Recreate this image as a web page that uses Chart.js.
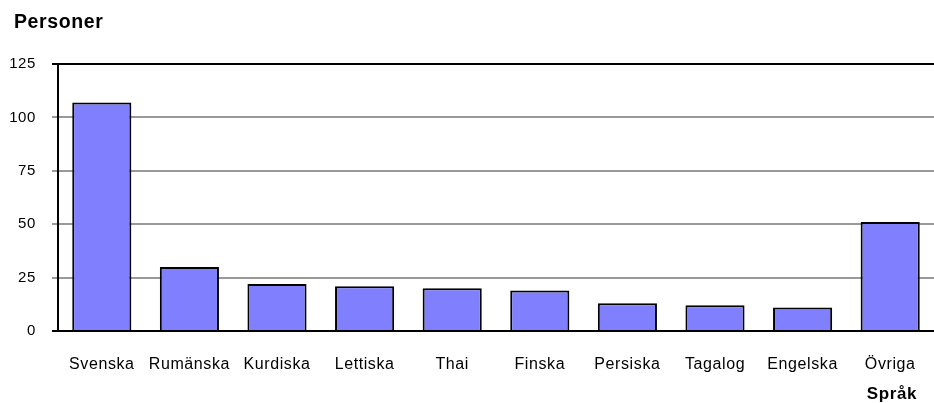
<!DOCTYPE html>
<html>
<head>
<meta charset="utf-8">
<script src="https://cdn.jsdelivr.net/npm/chart.js@4/dist/chart.umd.min.js"></script>
<style>
  html, body { margin: 0; padding: 0; background: #ffffff; }
  #wrap { width: 934px; height: 403px; }
</style>
</head>
<body>
<div id="wrap"><canvas id="c" width="934" height="403"></canvas></div>
<script>
const categories = ["Svenska", "Rumänska", "Kurdiska", "Lettiska", "Thai", "Finska", "Persiska", "Tagalog", "Engelska", "Övriga"];
const personer = [107, 30, 22, 21, 20, 19, 13, 12, 11, 51];
const yTicks = [0, 25, 50, 75, 100, 125];
const yTitle = "Personer";
const xTitle = "Språk";

const FONT = "'Liberation Sans', Arial, sans-serif";
const SPACING = '0.6px';

const spacingPlugin = {
  id: 'spacingPlugin',
  beforeDraw(chart) { chart.ctx.letterSpacing = SPACING; }
};

const titlesPlugin = {
  id: 'titlesPlugin',
  afterDraw(chart) {
    const ctx = chart.ctx;
    ctx.save();
    ctx.letterSpacing = SPACING;
    ctx.fillStyle = "#000";
    ctx.textBaseline = "middle";
    ctx.font = "bold 19.5px " + FONT;
    ctx.textAlign = "left";
    ctx.fillText(yTitle, 14, 23);
    ctx.font = "bold 17px " + FONT;
    ctx.textAlign = "right";
    ctx.fillText(xTitle, 917, 394);
    ctx.restore();
  }
};

new Chart(document.getElementById('c'), {
  type: 'bar',
  data: {
    labels: categories,
    datasets: [{
      data: personer,
      backgroundColor: '#8080FF',
      borderColor: '#000000',
      borderWidth: 2,
      categoryPercentage: 1.0,
      barPercentage: 0.675
    }]
  },
  options: {
    responsive: false,
    animation: false,
    devicePixelRatio: 1,
    layout: { padding: { left: 0, right: 0, top: 64, bottom: 0 } },
    plugins: {
      legend: { display: false },
      tooltip: { enabled: false },
      title: { display: false }
    },
    scales: {
      x: {
        grid: { display: true, drawOnChartArea: false, drawTicks: false },
        border: { display: true, color: '#000', width: 2 },
        ticks: {
          color: '#000',
          font: { family: FONT, size: 16 },
          padding: 24,
          maxRotation: 0,
          autoSkip: false
        },
        afterFit(scale) { scale.height = 72; scale.paddingLeft = 0; scale.paddingRight = 0; }
      },
      y: {
        min: 0,
        max: 125,
        afterBuildTicks(scale) { scale.ticks = yTicks.map(v => ({ value: v })); },
        grid: {
          color: (ctx) => (ctx.tick && (ctx.tick.value === 0 || ctx.tick.value === 125)) ? '#000' : '#999999',
          lineWidth: 2,
          tickLength: 6,
          drawTicks: true
        },
        border: { display: true, color: '#000', width: 2 },
        ticks: {
          color: '#000',
          font: { family: FONT, size: 15 },
          padding: 16
        },
        afterFit(scale) { scale.width = 58; scale.paddingTop = 0; scale.paddingBottom = 0; }
      }
    }
  },
  plugins: [spacingPlugin, titlesPlugin]
});
</script>
</body>
</html>
